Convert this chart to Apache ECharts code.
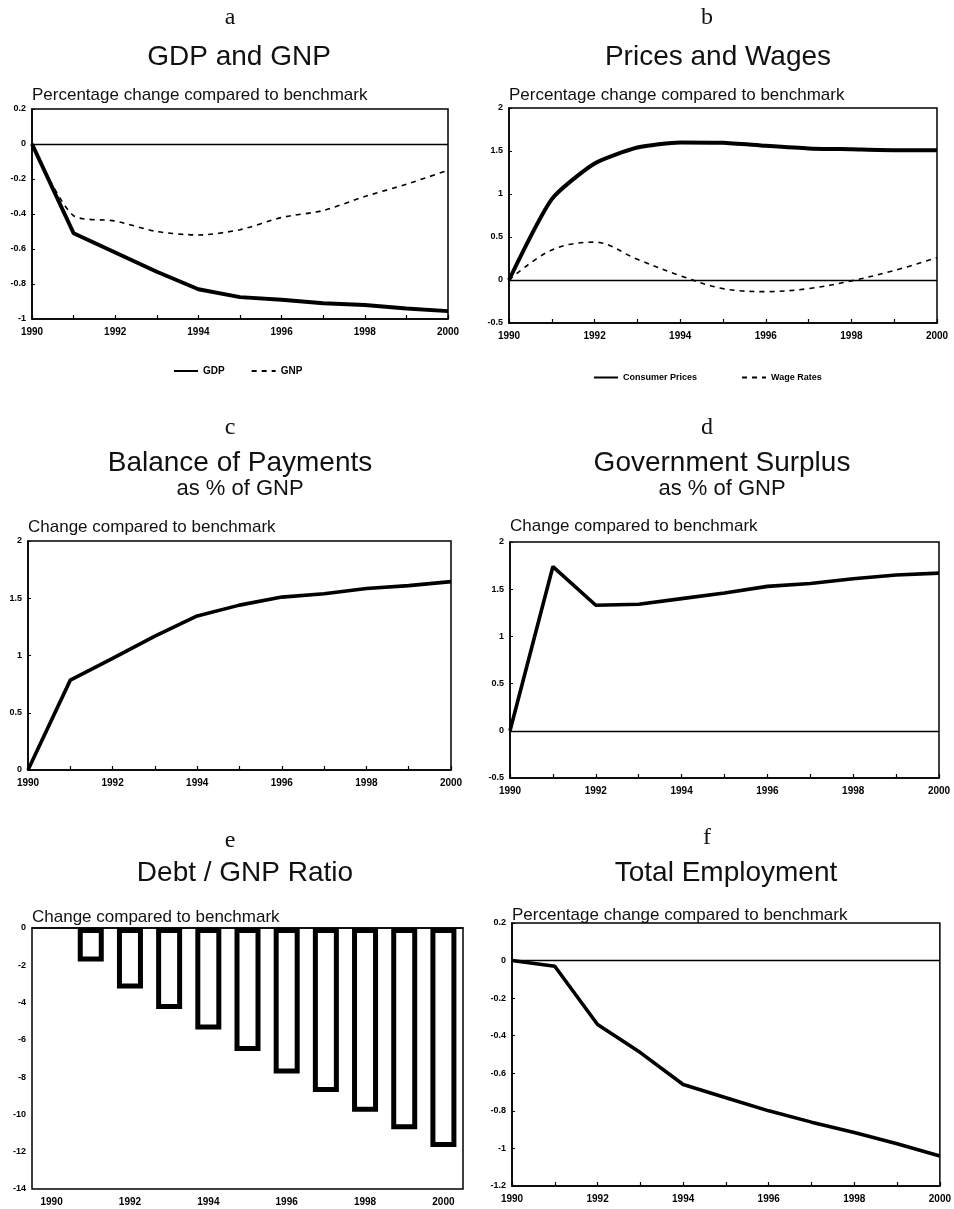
<!DOCTYPE html>
<html>
<head>
<meta charset="utf-8">
<script src="https://cdn.jsdelivr.net/npm/echarts@6/dist/echarts.min.js"></script>
<style>
  html, body { margin: 0; padding: 0; background: #fff; }
  #chart { width: 954px; height: 1209px; }
</style>
</head>
<body>
<div id="chart"></div>
<script>
// Simulation years and results, each panel's series kept separately
const years = [1990, 1991, 1992, 1993, 1994, 1995, 1996, 1997, 1998, 1999, 2000];

const gdp        = [0, -0.51, -0.62, -0.73, -0.83, -0.875, -0.89, -0.91, -0.92, -0.94, -0.955];
const gnp        = [0, -0.41, -0.44, -0.50, -0.52, -0.49, -0.42, -0.38, -0.30, -0.23, -0.15];
const consumerPrices = [0, 0.94, 1.355, 1.54, 1.60, 1.595, 1.56, 1.53, 1.52, 1.51, 1.51];
const wageRates  = [0, 0.35, 0.44, 0.24, 0.05, -0.10, -0.135, -0.10, -0.01, 0.11, 0.26];
const balanceOfPayments = [0, 0.785, 0.975, 1.17, 1.345, 1.44, 1.51, 1.54, 1.585, 1.61, 1.645];
const govSurplus = [0, 1.74, 1.33, 1.34, 1.40, 1.46, 1.53, 1.56, 1.61, 1.65, 1.67];
const debtRatio  = [0, -1.8, -3.25, -4.35, -5.45, -6.6, -7.8, -8.8, -9.85, -10.8, -11.75];
const employment = [0, -0.03, -0.34, -0.49, -0.66, -0.73, -0.80, -0.86, -0.915, -0.975, -1.04];

// Panel labels and headings
const panelLetters = ['a', 'b', 'c', 'd', 'e', 'f'];
const panelTitles = ['GDP and GNP', 'Prices and Wages', 'Balance of Payments', 'Government Surplus', 'Debt / GNP Ratio', 'Total Employment'];
const panelSubtitles = ['', '', 'as % of GNP', 'as % of GNP', '', ''];
const axisCaptions = [
  'Percentage change compared to benchmark',
  'Percentage change compared to benchmark',
  'Change compared to benchmark',
  'Change compared to benchmark',
  'Change compared to benchmark',
  'Percentage change compared to benchmark'
];

// y-axis ranges per panel: [min, max, interval]
const yRanges = [
  [-1, 0.2, 0.2],
  [-0.5, 2, 0.5],
  [0, 2, 0.5],
  [-0.5, 2, 0.5],
  [-14, 0, 2],
  [-1.2, 0.2, 0.2]
];

// Layout of the six plot areas (pixels)
const layout = [
  { left: 32,  top: 109, width: 416, height: 210, cx: 239, letterY: 18,  titleY: 57,  subY: 0,   capY: 95 },
  { left: 509, top: 108, width: 428, height: 215, cx: 718, letterY: 18,  titleY: 57,  subY: 0,   capY: 95 },
  { left: 28,  top: 541, width: 423, height: 229, cx: 240, letterY: 428, titleY: 463, subY: 489, capY: 527 },
  { left: 510, top: 542, width: 429, height: 236, cx: 722, letterY: 428, titleY: 463, subY: 489, capY: 526 },
  { left: 32,  top: 928, width: 431, height: 261, cx: 245, letterY: 841, titleY: 873, subY: 0,   capY: 917 },
  { left: 512, top: 923, width: 429, height: 263, cx: 726, letterY: 838, titleY: 873, subY: 0,   capY: 915 }
];
const letterX = [230, 707, 230, 707, 230, 707];

const FONT = '"Liberation Sans", Arial, sans-serif';
const SERIF = '"Liberation Serif", "Times New Roman", serif';

const pairs = (vals) => years.map((y, i) => [y, vals[i]]);

const grids = [], xAxes = [], yAxes = [], series = [], graphics = [];

layout.forEach((L, i) => {
  grids.push({
    left: L.left, top: L.top, width: L.width, height: L.height,
    show: true, borderColor: '#000', borderWidth: 1.5, backgroundColor: 'transparent'
  });

  const tickLabel = { color: '#000', fontSize: 10, fontWeight: 'bold', fontFamily: FONT, margin: 8 };

  if (i === 4) {
    xAxes.push({
      type: 'category', gridIndex: i, data: years.map(String), boundaryGap: true,
      axisLine: { lineStyle: { color: '#000', width: 1.5 } },
      axisTick: { inside: true, length: 4, alignWithLabel: true, interval: 0, lineStyle: { color: '#000', width: 1.2 } },
      axisLabel: Object.assign({ interval: 1 }, tickLabel),
      splitLine: { show: false }
    });
  } else {
    xAxes.push({
      type: 'value', gridIndex: i, min: 1990, max: 2000, interval: 1,
      axisLine: { onZero: false, lineStyle: { color: '#000', width: 1.5 } },
      axisTick: { inside: true, length: 4, lineStyle: { color: '#000', width: 1.2 } },
      axisLabel: Object.assign({ formatter: (v) => (v % 2 === 0 ? String(v) : '') }, tickLabel),
      splitLine: { show: false }
    });
  }

  const [ymin, ymax, yint] = yRanges[i];
  yAxes.push({
    type: 'value', gridIndex: i, min: ymin, max: ymax, interval: yint,
    axisLine: { onZero: false, lineStyle: { color: '#000', width: 1.5 } },
    axisTick: { inside: true, length: 3, lineStyle: { color: '#000', width: 1 } },
    axisLabel: Object.assign({}, tickLabel, { fontSize: 9, margin: 6 }),
    splitLine: { show: false }
  });

  // headings
  graphics.push({
    type: 'text', x: letterX[i], y: L.letterY,
    style: { text: panelLetters[i], font: '24px ' + SERIF, fill: '#111', textAlign: 'center', textVerticalAlign: 'middle' }
  });
  graphics.push({
    type: 'text', x: L.cx, y: L.titleY,
    style: { text: panelTitles[i], font: '28px ' + FONT, fill: '#111', textAlign: 'center', textVerticalAlign: 'middle' }
  });
  if (panelSubtitles[i]) {
    graphics.push({
      type: 'text', x: L.cx, y: L.subY,
      style: { text: panelSubtitles[i], font: '22px ' + FONT, fill: '#111', textAlign: 'center', textVerticalAlign: 'middle' }
    });
  }
  graphics.push({
    type: 'text', x: L.left, y: L.capY,
    style: { text: axisCaptions[i], font: '17px ' + FONT, fill: '#111', textAlign: 'left', textVerticalAlign: 'middle' }
  });
});

const zeroLine = {
  silent: true, symbol: ['none', 'none'], label: { show: false },
  lineStyle: { color: '#000', width: 1.3, type: 'solid' },
  data: [{ yAxis: 0 }]
};

const solid = (w) => ({ color: '#000', width: w, type: 'solid' });
const dashed = { color: '#000', width: 1.6, type: [5, 5] };

// a: GDP and GNP
series.push({ name: 'GDP', type: 'line', xAxisIndex: 0, yAxisIndex: 0, data: pairs(gdp), symbol: 'none', lineStyle: solid(4), itemStyle: { color: '#000' }, markLine: zeroLine });
series.push({ name: 'GNP', type: 'line', xAxisIndex: 0, yAxisIndex: 0, data: pairs(gnp), symbol: 'none', smooth: 0.25, lineStyle: dashed, itemStyle: { color: '#000' } });
// b: Prices and Wages
series.push({ name: 'Consumer Prices', type: 'line', xAxisIndex: 1, yAxisIndex: 1, data: pairs(consumerPrices), symbol: 'none', smooth: 0.2, lineStyle: solid(4), itemStyle: { color: '#000' }, markLine: zeroLine });
series.push({ name: 'Wage Rates', type: 'line', xAxisIndex: 1, yAxisIndex: 1, data: pairs(wageRates), symbol: 'none', smooth: 0.35, lineStyle: dashed, itemStyle: { color: '#000' } });
// c: Balance of Payments
series.push({ name: 'Balance of Payments', type: 'line', xAxisIndex: 2, yAxisIndex: 2, data: pairs(balanceOfPayments), symbol: 'none', lineStyle: solid(3.6), itemStyle: { color: '#000' } });
// d: Government Surplus
series.push({ name: 'Government Surplus', type: 'line', xAxisIndex: 3, yAxisIndex: 3, data: pairs(govSurplus), symbol: 'none', lineStyle: solid(3.6), itemStyle: { color: '#000' }, markLine: zeroLine });
// e: Debt / GNP ratio as hollow bars (base year has no bar)
series.push({
  name: 'Debt / GNP Ratio', type: 'bar', xAxisIndex: 4, yAxisIndex: 4,
  data: debtRatio.map((v) => (v === 0 ? '-' : v)),
  barWidth: 26,
  itemStyle: { color: '#fff', borderColor: '#000', borderWidth: 5 }
});
// f: Total Employment
series.push({ name: 'Total Employment', type: 'line', xAxisIndex: 5, yAxisIndex: 5, data: pairs(employment), symbol: 'none', lineStyle: solid(3.6), itemStyle: { color: '#000' }, markLine: zeroLine });

const legendText = { color: '#000', fontSize: 10, fontWeight: 'bold', fontFamily: FONT };
// legend keys show only the line style, no point marker
const legendItemStyle = { color: 'transparent', borderColor: 'transparent', borderWidth: 0, opacity: 0 };

const chart = echarts.init(document.getElementById('chart'), null, { renderer: 'canvas' });
chart.setOption({
  animation: false,
  backgroundColor: '#fff',
  grid: grids,
  xAxis: xAxes,
  yAxis: yAxes,
  legend: [
    { data: ['GDP', 'GNP'], left: 168, top: 361, itemWidth: 24, itemHeight: 10, itemGap: 26, textStyle: legendText, itemStyle: legendItemStyle },
    { data: ['Consumer Prices', 'Wage Rates'], left: 588, top: 368, itemWidth: 24, itemHeight: 10, itemGap: 44, textStyle: Object.assign({}, legendText, { fontSize: 9 }), itemStyle: legendItemStyle }
  ],
  series: series,
  graphic: graphics
});
</script>
</body>
</html>
